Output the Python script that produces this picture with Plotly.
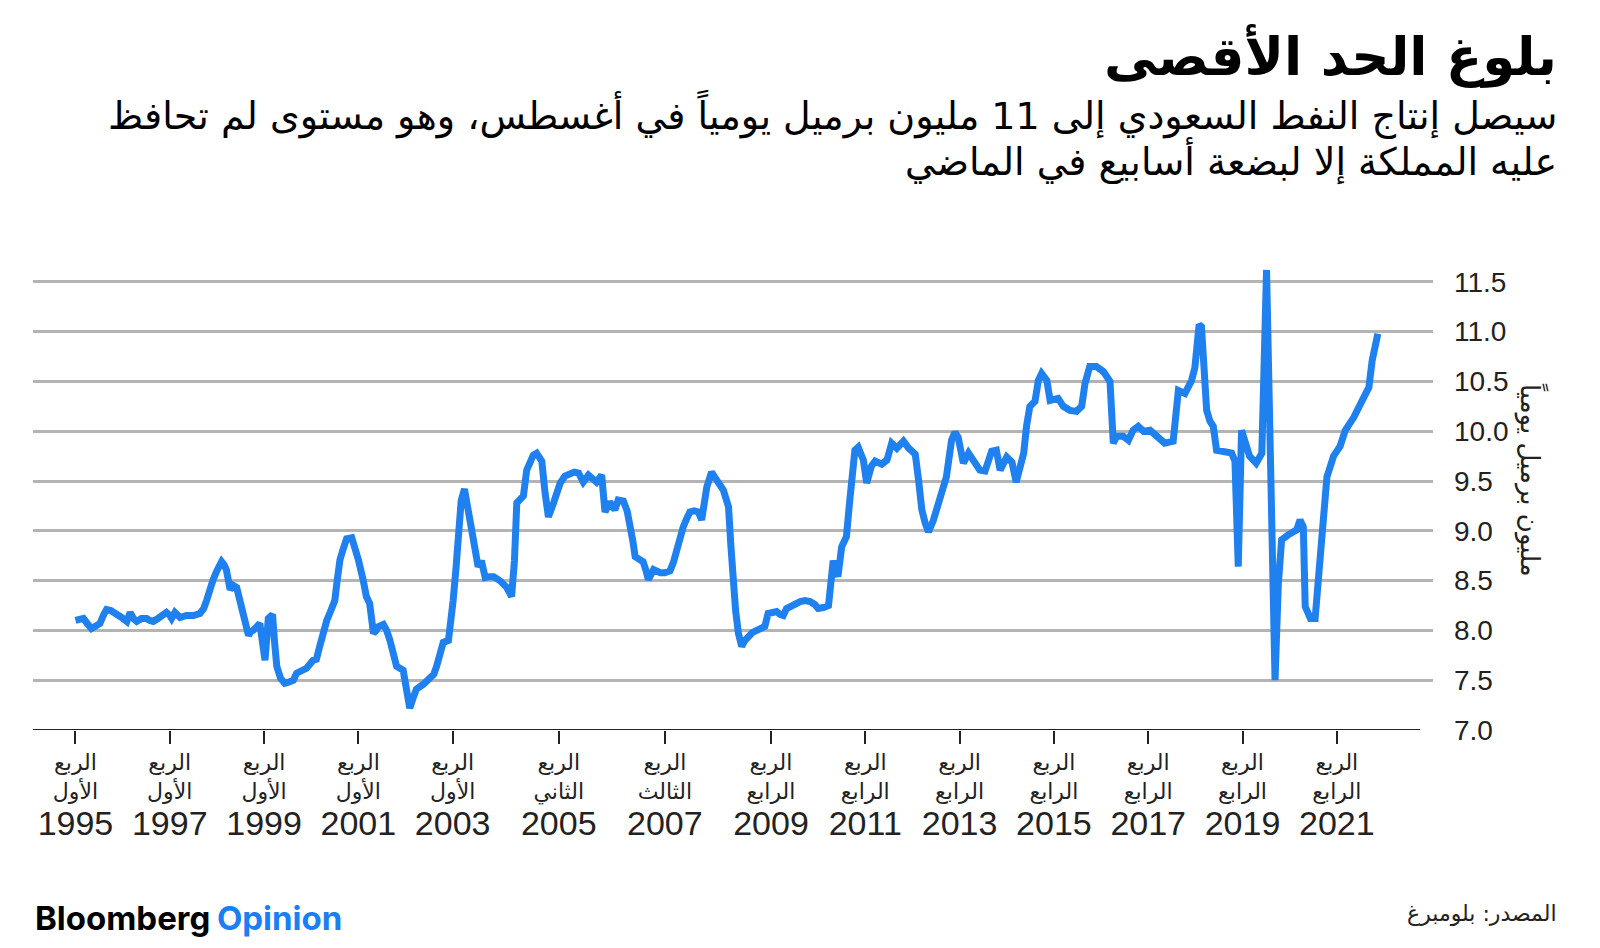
import plotly.graph_objects as go

# ---------------- data ----------------
time_dec = [
    1995.00, 1995.10, 1995.17, 1995.25, 1995.34, 1995.45, 1995.52, 1995.60, 1995.66, 1995.75,
    1995.87, 1995.98, 1996.09, 1996.16, 1996.23, 1996.30, 1996.40, 1996.51, 1996.58, 1996.65,
    1996.75, 1996.85, 1996.93, 1997.00, 1997.04, 1997.11, 1997.22, 1997.35, 1997.50, 1997.64,
    1997.72, 1997.78, 1997.85, 1997.92, 1998.00, 1998.10, 1998.15, 1998.20, 1998.28, 1998.35,
    1998.42, 1998.49, 1998.56, 1998.62, 1998.67, 1998.72, 1998.77, 1998.91, 1998.96, 1999.02,
    1999.09, 1999.18, 1999.22, 1999.27, 1999.35, 1999.44, 1999.52, 1999.62, 1999.69, 1999.80,
    1999.90, 2000.04, 2000.11, 2000.18, 2000.26, 2000.33, 2000.40, 2000.50, 2000.55, 2000.61,
    2000.68, 2000.75, 2000.86, 2000.93, 2001.00, 2001.10, 2001.17, 2001.24, 2001.28, 2001.32,
    2001.38, 2001.43, 2001.53, 2001.60, 2001.67, 2001.74, 2001.81, 2001.95, 2002.02, 2002.09,
    2002.16, 2002.23, 2002.38, 2002.52, 2002.60, 2002.66, 2002.73, 2002.80, 2002.91, 2002.96,
    2003.01, 2003.07, 2003.12, 2003.18, 2003.25, 2003.32, 2003.38, 2003.44, 2003.54, 2003.61,
    2003.69, 2003.78, 2003.87, 2004.00, 2004.07, 2004.15, 2004.25, 2004.31, 2004.36, 2004.50,
    2004.57, 2004.64, 2004.71, 2004.78, 2004.85, 2004.89, 2004.96, 2005.03, 2005.14, 2005.21,
    2005.28, 2005.38, 2005.49, 2005.58, 2005.67, 2005.77, 2005.88, 2005.96, 2006.05, 2006.16,
    2006.23, 2006.33, 2006.44, 2006.51, 2006.62, 2006.70, 2006.76, 2006.82, 2006.87, 2006.95,
    2007.04, 2007.10, 2007.15, 2007.26, 2007.40, 2007.50, 2007.61, 2007.68, 2007.75, 2007.89,
    2007.96, 2008.03, 2008.12, 2008.21, 2008.28, 2008.35, 2008.39, 2008.49, 2008.55, 2008.60,
    2008.74, 2008.85, 2008.90, 2008.95, 2009.00, 2009.06, 2009.13, 2009.20, 2009.27, 2009.36,
    2009.45, 2009.55, 2009.62, 2009.69, 2009.78, 2009.87, 2009.94, 2010.01, 2010.08, 2010.15,
    2010.25, 2010.37, 2010.47, 2010.58, 2010.68, 2010.75, 2010.86, 2010.97, 2011.07, 2011.17,
    2011.25, 2011.35, 2011.41, 2011.46, 2011.53, 2011.60, 2011.71, 2011.78, 2011.88, 2011.96,
    2012.10, 2012.21, 2012.31, 2012.42, 2012.56, 2012.67, 2012.81, 2012.88, 2012.95, 2013.02,
    2013.09, 2013.19, 2013.33, 2013.47, 2013.58, 2013.65, 2013.72, 2013.83, 2013.94, 2014.04,
    2014.18, 2014.29, 2014.43, 2014.53, 2014.61, 2014.75, 2014.86, 2014.95, 2015.04, 2015.11,
    2015.17, 2015.24, 2015.35, 2015.42, 2015.49, 2015.60, 2015.67, 2015.84, 2015.95, 2016.09,
    2016.23, 2016.34, 2016.41, 2016.51, 2016.65, 2016.80, 2016.94, 2017.01, 2017.08, 2017.22,
    2017.33, 2017.43, 2017.54, 2017.65, 2017.79, 2017.96, 2018.10, 2018.28, 2018.39, 2018.53,
    2018.67, 2018.74, 2018.83, 2018.88, 2018.99, 2019.06, 2019.13, 2019.20, 2019.38, 2019.52,
    2019.59, 2019.66, 2019.73, 2019.80, 2019.90, 2020.04, 2020.16, 2020.26, 2020.33, 2020.40,
    2020.44, 2020.51, 2020.58, 2020.72, 2020.90, 2020.97, 2021.04, 2021.08, 2021.19, 2021.29,
    2021.36, 2021.47, 2021.54, 2021.68, 2021.82, 2021.93, 2022.11, 2022.29, 2022.43, 2022.50,
    2022.62,
]

production = [
    8.10, 8.11, 8.12, 8.07, 8.02, 8.05, 8.07, 8.16, 8.21, 8.20,
    8.17, 8.13, 8.09, 8.18, 8.12, 8.09, 8.12, 8.12, 8.10, 8.09,
    8.12, 8.16, 8.18, 8.15, 8.12, 8.18, 8.13, 8.15, 8.15, 8.17,
    8.22, 8.30, 8.42, 8.51, 8.60, 8.69, 8.66, 8.61, 8.41, 8.45,
    8.43, 8.30, 8.17, 8.10, 7.95, 7.99, 8.00, 8.07, 7.90, 7.70,
    8.12, 8.16, 7.90, 7.64, 7.52, 7.47, 7.48, 7.50, 7.57, 7.60,
    7.62, 7.70, 7.71, 7.84, 7.99, 8.10, 8.18, 8.30, 8.50, 8.71,
    8.82, 8.92, 8.93, 8.83, 8.71, 8.51, 8.34, 8.27, 8.10, 7.97,
    8.00, 8.04, 8.06, 8.00, 7.90, 7.75, 7.64, 7.60, 7.40, 7.22,
    7.32, 7.41, 7.46, 7.51, 7.56, 7.64, 7.76, 7.88, 7.90, 8.05,
    8.30, 8.62, 8.98, 9.30, 9.42, 9.25, 9.05, 8.90, 8.64, 8.70,
    8.53, 8.54, 8.54, 8.50, 8.47, 8.43, 8.34, 8.70, 9.28, 9.35,
    9.61, 9.70, 9.76, 9.78, 9.74, 9.70, 9.38, 9.14, 9.28, 9.40,
    9.48, 9.55, 9.58, 9.59, 9.58, 9.49, 9.56, 9.53, 9.49, 9.56,
    9.19, 9.29, 9.21, 9.31, 9.30, 9.20, 9.08, 8.90, 8.74, 8.71,
    8.69, 8.60, 8.51, 8.61, 8.58, 8.58, 8.60, 8.68, 8.81, 9.04,
    9.12, 9.19, 9.20, 9.19, 9.11, 9.30, 9.44, 9.59, 9.56, 9.51,
    9.41, 9.24, 8.85, 8.44, 8.20, 7.97, 7.84, 7.90, 7.94, 7.98,
    8.00, 8.03, 8.04, 8.17, 8.18, 8.19, 8.16, 8.15, 8.22, 8.24,
    8.26, 8.29, 8.30, 8.29, 8.26, 8.22, 8.23, 8.25, 8.70, 8.54,
    8.84, 8.94, 9.25, 9.51, 9.81, 9.84, 9.71, 9.48, 9.65, 9.70,
    9.67, 9.71, 9.88, 9.83, 9.90, 9.83, 9.77, 9.51, 9.21, 9.08,
    8.99, 9.10, 9.34, 9.54, 9.91, 9.99, 9.94, 9.68, 9.78, 9.71,
    9.61, 9.60, 9.80, 9.81, 9.61, 9.74, 9.69, 9.49, 9.68, 9.78,
    10.05, 10.25, 10.30, 10.51, 10.58, 10.51, 10.31, 10.33, 10.25, 10.21,
    10.20, 10.25, 10.48, 10.65, 10.65, 10.60, 10.50, 9.88, 9.95, 9.95,
    9.91, 10.01, 10.05, 10.00, 10.01, 9.95, 9.88, 9.90, 10.41, 10.38,
    10.51, 10.64, 11.07, 11.05, 10.21, 10.10, 10.05, 9.81, 9.80, 9.78,
    9.70, 8.64, 10.01, 9.88, 9.75, 9.68, 9.78, 11.62, 10.14, 8.47,
    7.50, 8.47, 8.91, 8.96, 9.01, 9.11, 9.04, 8.24, 8.12, 8.12,
    8.54, 9.14, 9.54, 9.75, 9.85, 10.01, 10.14, 10.31, 10.44, 10.71,
    10.98,
]

tick_positions = [1995.0, 1997.0, 1999.0, 2001.0, 2003.0, 2005.25, 2007.5,
                  2009.75, 2011.75, 2013.75, 2015.75, 2017.75, 2019.75, 2021.75]
tick_years = ["1995", "1997", "1999", "2001", "2003", "2005", "2007",
              "2009", "2011", "2013", "2015", "2017", "2019", "2021"]
tick_quarters = ["الأول", "الأول", "الأول", "الأول", "الأول", "الثاني", "الثالث",
                 "الرابع", "الرابع", "الرابع", "الرابع", "الرابع", "الرابع", "الرابع"]
quarter_word = "الربع"

y_ticks = [7.0, 7.5, 8.0, 8.5, 9.0, 9.5, 10.0, 10.5, 11.0, 11.5]

title_text = "بلوغ الحد الأقصى"
subtitle_1 = "سيصل إنتاج النفط السعودي إلى 11 مليون برميل يومياً في أغسطس، وهو مستوى لم تحافظ"
subtitle_2 = "عليه المملكة إلا لبضعة أسابيع في الماضي"
y_title = "مليون برميل يومياً"
source_text = "المصدر: بلومبرغ"

# ---------------- layout geometry ----------------
W, H = 1600, 948
L, R, T, B = 33, 167, 257, 218
X_RANGE = [1994.10, 2023.79]
Y_RANGE = [7.0, 11.75]
BLUE = "#1f80f0"
AR_FONT = "DejaVu Sans"
NUM_FONT = "Liberation Sans"


def px_x(p):
    return (p - L) / (W - L - R)


def px_y(p):
    return (H - B - p) / (H - T - B)


fig = go.Figure()
fig.add_trace(go.Scatter(
    x=time_dec, y=production, mode="lines",
    line=dict(color=BLUE, width=7), showlegend=False, hoverinfo="skip",
))
# empty trace to host the year-label axis
fig.add_trace(go.Scatter(x=[], y=[], xaxis="x2", showlegend=False))

fig.update_layout(
    width=W, height=H,
    margin=dict(l=L, r=R, t=T, b=B),
    paper_bgcolor="white", plot_bgcolor="white",
    xaxis=dict(
        range=X_RANGE, showgrid=False, zeroline=False, showline=False,
        tickmode="array", tickvals=tick_positions,
        ticktext=[f"{quarter_word}<br>{q}" for q in tick_quarters],
        ticks="outside", ticklen=13, tickwidth=1.5, tickcolor="#222",
        tickfont=dict(family=AR_FONT, size=22, color="#222"),
        ticklabelstandoff=0,
    ),
    xaxis2=dict(
        range=X_RANGE, overlaying="x", anchor="y", side="bottom",
        showgrid=False, zeroline=False, showline=False, ticks="",
        tickmode="array", tickvals=tick_positions, ticktext=tick_years,
        tickfont=dict(family=NUM_FONT, size=34, color="#222"),
        ticklabelstandoff=70,
    ),
    yaxis=dict(
        range=Y_RANGE, side="right", zeroline=False, showline=False,
        tickmode="array", tickvals=y_ticks,
        ticktext=[f"{v:.1f}" for v in y_ticks],
        showgrid=True, gridcolor="#b4b4b4", gridwidth=2.5,
        ticks="", ticklabelstandoff=20,
        tickfont=dict(family=NUM_FONT, size=28, color="#222"),
    ),
    shapes=[dict(
        type="line", xref="paper", yref="y", x0=0, x1=px_x(1420), y0=7.0, y1=7.0,
        line=dict(color="#222", width=2), layer="above",
    )],
    annotations=[
        dict(text=f"<b>{title_text}</b>", xref="paper", yref="paper",
             x=px_x(1559), y=px_y(56), xanchor="right", yanchor="middle",
             showarrow=False, font=dict(family=AR_FONT, size=53, color="black")),
        dict(text=subtitle_1, xref="paper", yref="paper",
             x=px_x(1559), y=px_y(114), xanchor="right", yanchor="middle",
             showarrow=False, font=dict(family=AR_FONT, size=38, color="black")),
        dict(text=subtitle_2, xref="paper", yref="paper",
             x=px_x(1559), y=px_y(161), xanchor="right", yanchor="middle",
             showarrow=False, font=dict(family=AR_FONT, size=38, color="black")),
        dict(text=y_title, xref="paper", yref="paper",
             x=px_x(1532), y=px_y(480), xanchor="center", yanchor="middle",
             textangle=90, showarrow=False,
             font=dict(family=AR_FONT, size=26, color="#222")),
        dict(text="<b>Bloomberg</b> <b><span style='color:#1a7ef5'>Opinion</span></b>",
             xref="paper", yref="paper", x=px_x(33), y=px_y(918),
             xanchor="left", yanchor="middle", showarrow=False,
             font=dict(family="Inter", size=33, color="black", weight=900)),
        dict(text=source_text, xref="paper", yref="paper",
             x=px_x(1559), y=px_y(913), xanchor="right", yanchor="middle",
             showarrow=False, font=dict(family=AR_FONT, size=22, color="#222")),
    ],
)

fig.write_html("out.html")
